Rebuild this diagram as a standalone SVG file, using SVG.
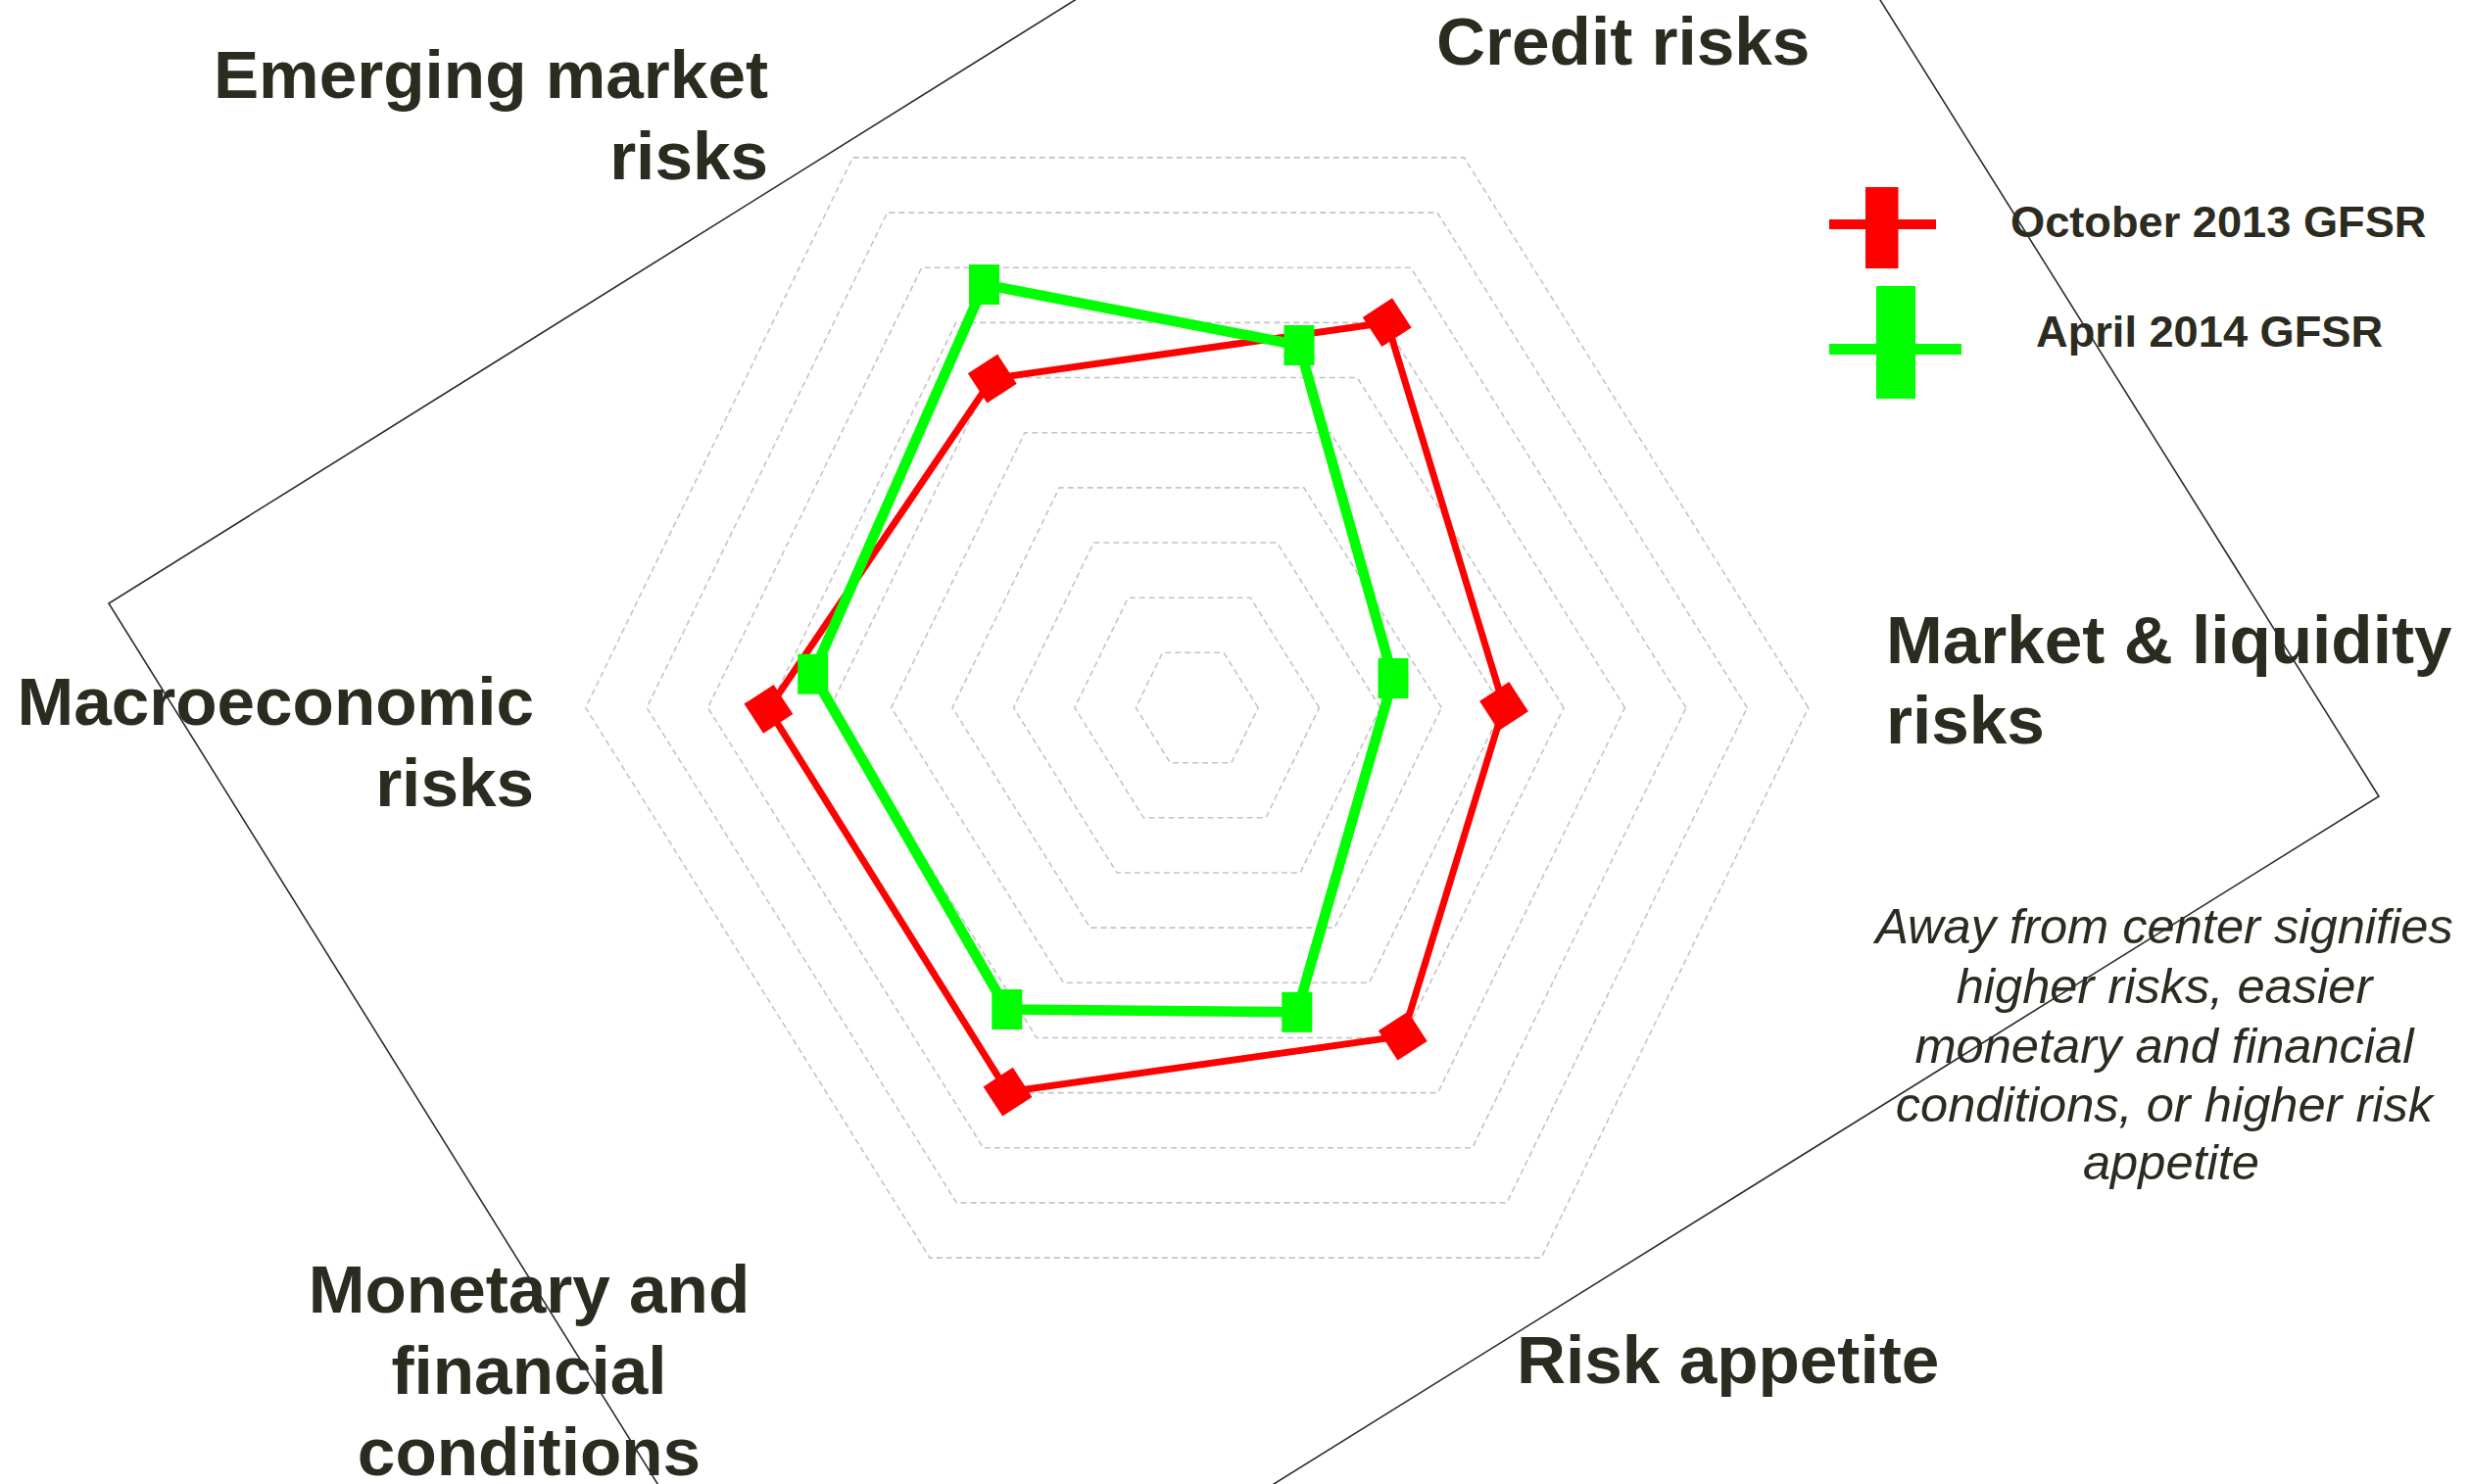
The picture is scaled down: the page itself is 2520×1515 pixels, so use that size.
<svg xmlns="http://www.w3.org/2000/svg" width="2520" height="1515" viewBox="0 0 2520 1515">
<defs>
<style>
.grid{fill:none;stroke:#c4c4c4;stroke-width:1.6;stroke-dasharray:6 4}
.frame{fill:none;stroke:#2b2b2b;stroke-width:1.6}
.lbl{font-family:"Liberation Sans",Arial,sans-serif;font-weight:bold;font-size:69.3px;fill:#2b2b20}
.leg{font-family:"Liberation Sans",Arial,sans-serif;font-weight:bold;font-size:45.2px;fill:#2b2b20}
.note{font-family:"Liberation Sans",Arial,sans-serif;font-style:italic;font-size:50.6px;fill:#2b2b20}
.red{fill:none;stroke:#ff0000;stroke-width:7;stroke-linejoin:miter}
.green{fill:none;stroke:#00ff00;stroke-width:10.5;stroke-linejoin:miter}
</style>
<rect id="dia" x="-18" y="-18" width="36" height="36" fill="#ff0000" transform="rotate(-33)"/>
<rect id="sq" x="-15.5" y="-20.5" width="31" height="41" fill="#00ff00"/>
</defs>
<rect width="2520" height="1515" fill="#ffffff"/>
<g id="grid">
<polygon class="grid" points="1284.1,722.5 1249.0,666.3 1186.6,666.3 1159.3,722.5 1194.4,778.7 1256.8,778.7"/>
<polygon class="grid" points="1346.5,722.5 1276.2,610.2 1151.4,610.2 1096.9,722.5 1167.2,834.8 1292.0,834.8"/>
<polygon class="grid" points="1408.9,722.5 1303.5,554.0 1116.3,554.0 1034.5,722.5 1139.9,891.0 1327.1,891.0"/>
<polygon class="grid" points="1471.3,722.5 1330.8,497.9 1081.2,497.9 972.1,722.5 1112.6,947.1 1362.2,947.1"/>
<polygon class="grid" points="1533.7,722.5 1358.0,441.7 1046.0,441.7 909.7,722.5 1085.4,1003.3 1397.4,1003.3"/>
<polygon class="grid" points="1596.1,722.5 1385.3,385.5 1010.9,385.5 847.3,722.5 1058.1,1059.5 1432.5,1059.5"/>
<polygon class="grid" points="1658.5,722.5 1412.6,329.4 975.8,329.4 784.9,722.5 1030.8,1115.6 1467.6,1115.6"/>
<polygon class="grid" points="1720.9,722.5 1439.9,273.2 940.7,273.2 722.5,722.5 1003.6,1171.8 1502.8,1171.8"/>
<polygon class="grid" points="1783.3,722.5 1467.1,217.1 905.5,217.1 660.1,722.5 976.3,1227.9 1537.9,1227.9"/>
<polygon class="grid" points="1845.7,722.5 1494.4,160.9 870.4,160.9 597.7,722.5 949.0,1284.1 1573.0,1284.1"/>
</g>
<g id="connectors">
<polygon class="red" points="1012.8,386.5 1415.7,329.2 1535,721 1431.8,1057.6 1028.5,1114.7 784.4,723.8"/>
<polygon class="green" points="1004.5,290.5 1326,352.5 1422,692.5 1323.8,1033.3 1027.8,1030.5 829.7,688.2"/>
</g>
<g id="markers-oct2013">
<use href="#dia" x="1012.8" y="386.5"/>
<use href="#dia" x="1415.7" y="329.2"/>
<use href="#dia" x="1535" y="721"/>
<use href="#dia" x="1431.8" y="1057.6"/>
<use href="#dia" x="1028.5" y="1114.7"/>
<use href="#dia" x="784.4" y="723.8"/>
</g>
<g id="markers-apr2014">
<use href="#sq" x="1004.5" y="290.5"/>
<use href="#sq" x="1326" y="352.5"/>
<use href="#sq" x="1422" y="692.5"/>
<use href="#sq" x="1323.8" y="1033.3"/>
<use href="#sq" x="1027.8" y="1030.5"/>
<use href="#sq" x="829.7" y="688.2"/>
</g>
<g id="legend">
<rect x="1904" y="191" width="33.5" height="83" fill="#ff0000"/>
<rect x="1867" y="224" width="109" height="10" fill="#ff0000"/>
<rect x="1915" y="292" width="40" height="115" fill="#00ff00"/>
<rect x="1867" y="351" width="135" height="11" fill="#00ff00"/>
<text class="leg" x="2052" y="242">October 2013 GFSR</text>
<text class="leg" x="2078" y="354">April 2014 GFSR</text>
</g>
<g id="labels">
<g id="label-em"><text class="lbl" x="784" y="100" text-anchor="end">Emerging market</text><text class="lbl" x="784" y="183" text-anchor="end">risks</text></g>
<g id="label-credit"><text class="lbl" x="1466" y="66">Credit risks</text></g>
<g id="label-market"><text class="lbl" x="1925" y="677">Market &amp; liquidity</text><text class="lbl" x="1925" y="759">risks</text></g>
<g id="label-macro"><text class="lbl" x="545" y="740" text-anchor="end">Macroeconomic</text><text class="lbl" x="545" y="823" text-anchor="end">risks</text></g>
<g id="label-monetary"><text class="lbl" x="540" y="1340" text-anchor="middle">Monetary and</text><text class="lbl" x="540" y="1423" text-anchor="middle">financial</text><text class="lbl" x="540" y="1506" text-anchor="middle">conditions</text></g>
<g id="label-risk"><text class="lbl" x="1548" y="1412">Risk appetite</text></g>
<g id="note"><text class="note" text-anchor="middle" x="2216">
<tspan x="2216" y="963">Away from center signifies</tspan>
<tspan x="2216" y="1024">higher risks, easier</tspan>
<tspan x="2216" y="1085">monetary and financial</tspan>
<tspan x="2216" y="1145">conditions, or higher risk</tspan>
<tspan x="2216" y="1204">appetite</tspan></text></g>
</g>
<g id="frame">
<polygon class="frame" points="1688,-369 2428,813 847,1797 111,616"/>
</g>
</svg>
